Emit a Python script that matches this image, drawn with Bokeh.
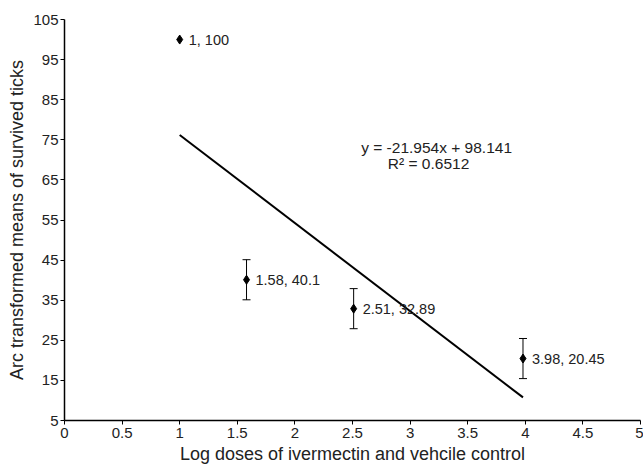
from bokeh.plotting import figure
from bokeh.models import Range1d, ColumnDataSource, Whisker, TeeHead, FixedTicker
from bokeh.core.properties import value
from bokeh.embed import file_html
from bokeh.resources import INLINE

# Data
dose_x = [1.0, 1.58, 2.51, 3.98]
mean_y = [100.0, 40.1, 32.89, 20.45]
err_y = [0.0, 5.0, 5.0, 5.0]
point_labels = ["1, 100", "1.58, 40.1", "2.51, 32.89", "3.98, 20.45"]

slope = -21.954
intercept = 98.141
r2 = 0.6512
fit_x = [1.0, 3.98]

x_ticks = [0, 0.5, 1, 1.5, 2, 2.5, 3, 3.5, 4, 4.5, 5]
x_tick_labels = ["0", "0.5", "1", "1.5", "2", "2.5", "3", "3.5", "4", "4.5", "5"]
y_ticks = [5, 15, 25, 35, 45, 55, 65, 75, 85, 95, 105]

eq_lines = ["y = -21.954x + 98.141", "R\u00b2 = 0.6512"]
eq_x = [3.23, 3.16]
eq_y = [73.1, 69.1]

FONT = "Liberation Sans"

p = figure(width=643, height=467, output_backend="svg", toolbar_location=None,
           x_range=Range1d(0, 5), y_range=Range1d(5, 105),
           min_border_left=64, min_border_right=3, min_border_top=19, min_border_bottom=47)
p.outline_line_color = None
p.grid.grid_line_color = None
p.background_fill_color = "white"
p.border_fill_color = "white"

for ax in (p.xaxis[0], p.yaxis[0]):
    ax.axis_line_color = "black"
    ax.axis_line_width = 1.5
    ax.major_tick_line_color = "black"
    ax.major_tick_line_width = 1
    ax.major_tick_out = 4
    ax.major_tick_in = 0
    ax.minor_tick_line_color = None
    ax.major_label_text_font = FONT
    ax.major_label_text_font_size = "15px"
    ax.major_label_text_color = "#222222"
    ax.axis_label_text_font = FONT
    ax.axis_label_text_font_size = "18px"
    ax.axis_label_text_font_style = "normal"
    ax.axis_label_text_color = "#222222"
    ax.major_label_standoff = 2
    ax.axis_label_standoff = 3

p.xaxis.major_label_standoff = 3

p.xaxis.ticker = FixedTicker(ticks=x_ticks)
p.xaxis.major_label_overrides = {t: l for t, l in zip(x_ticks, x_tick_labels)}
p.yaxis.ticker = FixedTicker(ticks=y_ticks)
p.xaxis.axis_label = "Log doses of ivermectin and vehcile control"
p.yaxis.axis_label = "Arc transformed means of survived ticks"

# regression line
fit_y = [slope * x + intercept for x in fit_x]
p.line(fit_x, fit_y, line_color="black", line_width=2)

# error bars
ex = [x for x, e in zip(dose_x, err_y) if e > 0]
lo = [y - e for y, e in zip(mean_y, err_y) if e > 0]
hi = [y + e for y, e in zip(mean_y, err_y) if e > 0]
esrc = ColumnDataSource(dict(x=ex, lower=lo, upper=hi))
w = Whisker(source=esrc, base="x", lower="lower", upper="upper", dimension="height",
            line_color="black", line_width=1,
            upper_head=TeeHead(size=8, line_color="black", line_width=1),
            lower_head=TeeHead(size=8, line_color="black", line_width=1))
p.add_layout(w)

# points
p.scatter(dose_x, mean_y, marker="diamond", size=9, color="black")

# labels
p.text(dose_x, mean_y, text=point_labels, x_offset=9, text_baseline="middle",
       text_align="left", text_font=value(FONT), text_font_size="14.5px", text_color="#222222")

# equation
p.text(eq_x, eq_y, text=eq_lines, text_align="center",
       text_baseline="middle", text_font=value(FONT), text_font_size="15.5px", text_color="#222222")

open("out.html", "w").write(file_html(p, INLINE))
